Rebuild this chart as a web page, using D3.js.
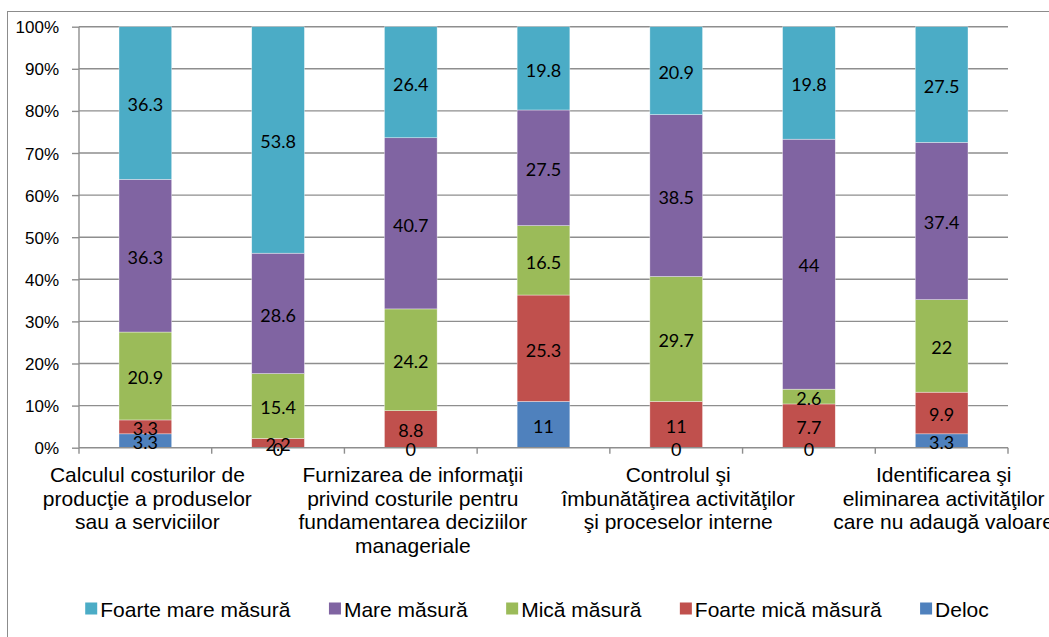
<!DOCTYPE html>
<html>
<head>
<meta charset="utf-8">
<script src="https://cdn.jsdelivr.net/npm/d3@7"></script>
<style>
  html, body { margin: 0; padding: 0; background: #fff; overflow: hidden; }
  svg { display: block; }
</style>
</head>
<body>
<svg id="chart" width="1049" height="637"></svg>
<script>
// ---- Data ----
// Only every other category label is shown in the original; hidden names are unknown.
const categories = [
  "Calculul costurilor de\nproducţie a produselor\nsau a serviciilor",
  "",
  "Furnizarea de informaţii\nprivind costurile pentru\nfundamentarea deciziilor\nmanageriale",
  "",
  "Controlul şi\nîmbunătăţirea activităţilor\nşi proceselor interne",
  "",
  "Identificarea şi\neliminarea activităţilor\ncare nu adaugă valoare"
];
const seriesNames = ["Deloc", "Foarte mică măsură", "Mică măsură", "Mare măsură", "Foarte mare măsură"];
const deloc      = [3.3, 0,    0,    11,   0,    0,    3.3];
const foarteMica = [3.3, 2.2,  8.8,  25.3, 11,   7.7,  9.9];
const mica       = [20.9, 15.4, 24.2, 16.5, 29.7, 2.6,  22];
const mare       = [36.3, 28.6, 40.7, 27.5, 38.5, 44,   37.4];
const foarteMare = [36.3, 53.8, 26.4, 19.8, 20.9, 19.8, 27.5];
const seriesColors = ["#4F81BD", "#C0504D", "#9BBB59", "#8064A2", "#4BACC6"];
const legendOrder = ["Foarte mare măsură", "Mare măsură", "Mică măsură", "Foarte mică măsură", "Deloc"];
const yTickValues = [0, 0.1, 0.2, 0.3, 0.4, 0.5, 0.6, 0.7, 0.8, 0.9, 1];

// ---- Build table ----
const seriesValues = [deloc, foarteMica, mica, mare, foarteMare];
const table = categories.map((c, i) => {
  const row = { idx: i };
  seriesNames.forEach((s, k) => { row[s] = seriesValues[k][i]; });
  return row;
});
const stacked = d3.stack().keys(seriesNames).offset(d3.stackOffsetExpand)(table);
const color = d3.scaleOrdinal().domain(seriesNames).range(seriesColors);

// ---- Layout ----
const svg = d3.select("#chart");
const plot = { left: 79, right: 1008, top: 26.7, bottom: 447.7 };
const AX = "Liberation Sans, Arial, sans-serif";

const x = d3.scaleBand()
  .domain(table.map(d => d.idx))
  .range([plot.left, plot.right])
  .paddingInner(0.603)
  .paddingOuter(0.3015);
const y = d3.scaleLinear().domain([0, 1]).range([plot.bottom, plot.top]);
const step = x.step();

// chart area border
svg.append("rect")
  .attr("x", 7.5).attr("y", 11.5)
  .attr("width", 1200).attr("height", 800)
  .attr("fill", "#fff").attr("stroke", "#8c8c8c").attr("stroke-width", 1);

// gridlines
svg.append("g").selectAll("line")
  .data(yTickValues.filter(v => v > 0))
  .join("line")
  .attr("x1", plot.left).attr("x2", plot.right)
  .attr("y1", d => y(d)).attr("y2", d => y(d))
  .attr("stroke", "#8e8e8e").attr("stroke-width", 1.4);

// bars
const layer = svg.append("g").selectAll("g")
  .data(stacked)
  .join("g")
  .attr("fill", d => color(d.key));
layer.selectAll("rect")
  .data(d => d)
  .join("rect")
  .attr("x", d => x(d.data.idx))
  .attr("width", x.bandwidth())
  .attr("y", d => y(d[1]))
  .attr("height", d => Math.max(0, y(d[0]) - y(d[1])))
  .attr("stroke", "#ffffff").attr("stroke-width", 0.6).attr("stroke-opacity", 0.6);

// y axis
const yAxis = d3.axisLeft(y)
  .tickValues(yTickValues)
  .tickFormat(d => Math.round(d * 100) + "%")
  .tickSize(7)
  .tickPadding(13);
const gy = svg.append("g").attr("transform", `translate(${plot.left},0)`).call(yAxis);
gy.select(".domain").attr("stroke", "#8e8e8e").attr("stroke-width", 1.4).attr("d", `M0,${plot.top}V${plot.bottom}`);
gy.selectAll(".tick line").attr("stroke", "#8e8e8e").attr("stroke-width", 1.4);
gy.selectAll(".tick text")
  .attr("font-family", AX).attr("font-size", 17).attr("fill", "#000")
  .attr("dy", null).attr("y", 6);

// x axis line and boundary ticks
const gx = svg.append("g");
gx.append("line")
  .attr("x1", plot.left).attr("x2", plot.right)
  .attr("y1", plot.bottom).attr("y2", plot.bottom)
  .attr("stroke", "#8e8e8e").attr("stroke-width", 1.4);
const boundaries = table.map(d => x(d.idx) - (step - x.bandwidth()) / 2);
boundaries.push(plot.right);
gx.selectAll("line.tk")
  .data(boundaries)
  .join("line").attr("class", "tk")
  .attr("x1", d => d).attr("x2", d => d)
  .attr("y1", plot.bottom).attr("y2", plot.bottom + 6)
  .attr("stroke", "#8e8e8e").attr("stroke-width", 1.4);

// category labels
const catG = gx.selectAll("text.cat")
  .data(table.filter(d => categories[d.idx] !== ""))
  .join("text").attr("class", "cat")
  .attr("font-family", AX).attr("font-size", 21).attr("fill", "#000")
  .attr("text-anchor", "middle");
catG.selectAll("tspan")
  .data(d => categories[d.idx].split("\n").map(line => ({ line, cx: x(d.idx) + x.bandwidth() / 2 + 2 })))
  .join("tspan")
  .attr("x", d => d.cx)
  .attr("y", (d, i) => 481.7 + i * 23.8)
  .text(d => d.line);

// data labels
const lab = svg.append("g")
  .attr("font-family", "Lato, 'Open Sans', sans-serif").attr("font-size", 18).attr("fill", "#000")
  .attr("text-anchor", "middle");
stacked.forEach(s => {
  lab.selectAll(null)
    .data(s)
    .join("text")
    .attr("x", d => x(d.data.idx) + x.bandwidth() / 2)
    .attr("y", d => (y(d[0]) + y(d[1])) / 2 + 2)
    .attr("dy", "0.35em")
    .text(d => String(d.data[s.key]));
});

// legend
const leg = svg.append("g").attr("font-family", AX).attr("font-size", 21).attr("fill", "#000");
const items = leg.selectAll("g").data(legendOrder).join("g");
items.append("rect")
  .attr("width", 12).attr("height", 12)
  .attr("y", 602.5)
  .attr("fill", d => color(d));
items.append("text")
  .attr("x", 15).attr("y", 616.5)
  .text(d => d);
let widths = [];
items.each(function() { widths.push(this.querySelector("text").getComputedTextLength() + 15); });
const gap = 38.5;
const total = d3.sum(widths) + gap * (widths.length - 1);
let cx = 537 - total / 2;
items.attr("transform", (d, i) => {
  const t = `translate(${cx},0)`;
  cx += widths[i] + gap;
  return t;
});
</script>
</body>
</html>
